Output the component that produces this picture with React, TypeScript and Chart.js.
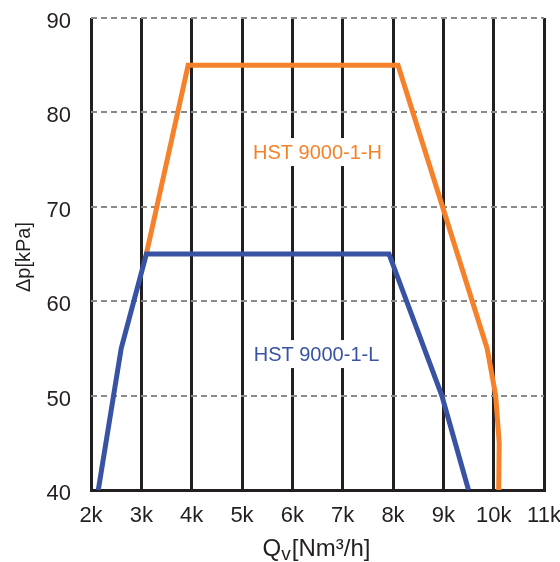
import { useEffect, useRef } from 'react';
import { Chart, registerables } from 'chart.js';

Chart.register(...registerables);

// ---- data ----
const H_FLOW = [3100, 3930, 8100, 9870, 10040, 10110, 10100];
const H_DP = [65, 85, 85, 55, 50, 45, 40];
const L_FLOW = [2145, 2600, 3100, 7920, 8970, 9500];
const L_DP = [40, 55, 65, 65, 50, 40];
const SERIES_NAMES = ['HST 9000-1-H', 'HST 9000-1-L'];
const LABEL_FLOW = [6500, 6480];
const LABEL_DP = [75.8, 54.4];
const X_MIN = 2000;
const X_MAX = 11000;
const Y_MIN = 40;
const Y_MAX = 90;
const Y_TITLE = 'Δp[kPa]';
const X_TITLE_MAIN = 'Q';
const X_TITLE_SUB = 'v';
const X_TITLE_REST = '[Nm³/h]';

const ORANGE = '#F5822A';
const BLUE = '#3953A4';
const INK = '#231F20';
const SANS = '"Liberation Sans", Arial, sans-serif';

export default function App() {
  const ref = useRef<HTMLCanvasElement>(null);

  useEffect(() => {
    const canvas = ref.current!;
    const textPlugin = {
      id: 'textPlugin',
      afterDraw(chart: any) {
        const { ctx, scales, chartArea } = chart;
        const x = scales.x;
        const y = scales.y;
        ctx.save();
        const colors = [ORANGE, BLUE];
        SERIES_NAMES.forEach((name, i) => {
          const px = x.getPixelForValue(LABEL_FLOW[i]);
          const py = y.getPixelForValue(LABEL_DP[i]);
          ctx.font = `20px ${SANS}`;
          const w = ctx.measureText(name).width;
          ctx.fillStyle = '#ffffff';
          ctx.fillRect(px - w / 2 - 6, py - 14, w + 12, 28);
          ctx.fillStyle = colors[i];
          ctx.textAlign = 'center';
          ctx.textBaseline = 'middle';
          ctx.fillText(name, px, py + 1);
        });
        // y title
        ctx.save();
        ctx.translate(24, (chartArea.top + chartArea.bottom) / 2 + 3);
        ctx.rotate(-Math.PI / 2);
        ctx.fillStyle = INK;
        ctx.font = `20px ${SANS}`;
        ctx.textAlign = 'center';
        ctx.textBaseline = 'middle';
        ctx.fillText(Y_TITLE, 0, 0);
        ctx.restore();
        // x title with subscript
        ctx.fillStyle = INK;
        ctx.textAlign = 'left';
        ctx.textBaseline = 'alphabetic';
        const big = `24px ${SANS}`;
        const small = `19px ${SANS}`;
        ctx.font = big;
        const wQ = ctx.measureText(X_TITLE_MAIN).width;
        const wR = ctx.measureText(X_TITLE_REST).width;
        ctx.font = small;
        const wV = ctx.measureText(X_TITLE_SUB).width;
        const total = wQ + wV + wR + 1;
        const cx = (chartArea.left + chartArea.right) / 2 - 1;
        let sx = cx - total / 2;
        const base = 556;
        ctx.font = big;
        ctx.fillText(X_TITLE_MAIN, sx, base);
        sx += wQ;
        ctx.font = small;
        ctx.fillText(X_TITLE_SUB, sx, base + 4);
        sx += wV + 1;
        ctx.font = big;
        ctx.fillText(X_TITLE_REST, sx, base);
        ctx.restore();
      },
    };

    const chart = new Chart(canvas, {
      type: 'line',
      data: {
        datasets: [
          {
            label: SERIES_NAMES[0],
            data: H_FLOW.map((q, i) => ({ x: q, y: H_DP[i] })),
            borderColor: ORANGE,
            borderWidth: 5,
            pointRadius: 0,
            tension: 0,
            fill: false,
            order: 1,
          },
          {
            label: SERIES_NAMES[1],
            data: L_FLOW.map((q, i) => ({ x: q, y: L_DP[i] })),
            borderColor: BLUE,
            borderWidth: 5,
            pointRadius: 0,
            tension: 0,
            fill: false,
            order: 0,
          },
        ],
      },
      options: {
        animation: false,
        responsive: false,
        devicePixelRatio: window.devicePixelRatio || 1,
        layout: { padding: { top: 18, right: 16, left: 0, bottom: 0 } },
        plugins: {
          legend: { display: false },
          tooltip: { enabled: false },
          title: { display: false },
        },
        scales: {
          x: {
            type: 'linear',
            min: X_MIN,
            max: X_MAX,
            afterFit: (s: any) => {
              s.height = 72;
              s.paddingLeft = 0;
              s.paddingRight = 0;
            },
            ticks: {
              stepSize: 1000,
              color: INK,
              font: { family: SANS, size: 22 },
              padding: 13,
              maxRotation: 0,
              callback: (v: any) => `${Number(v) / 1000}k`,
            },
            grid: { color: INK, lineWidth: 3, drawTicks: false },
            border: { display: true, color: INK, width: 3 },
          },
          y: {
            type: 'linear',
            min: Y_MIN,
            max: Y_MAX,
            afterFit: (s: any) => {
              s.width = 91;
              s.paddingTop = 0;
              s.paddingBottom = 0;
            },
            ticks: {
              stepSize: 10,
              color: INK,
              font: { family: SANS, size: 22 },
              padding: 20,
              labelOffset: 4,
            },
            grid: { color: '#8a8a8a', lineWidth: 2, drawTicks: false },
            border: { display: false, dash: [6, 4] },
          },
        },
      },
      plugins: [textPlugin],
    } as any);

    return () => chart.destroy();
  }, []);

  return (
    <div style={{ position: 'fixed', left: 0, top: 0, width: 560, height: 562, background: '#fff' }}>
      <canvas ref={ref} width={560} height={562} style={{ width: 560, height: 562 }} />
    </div>
  );
}
